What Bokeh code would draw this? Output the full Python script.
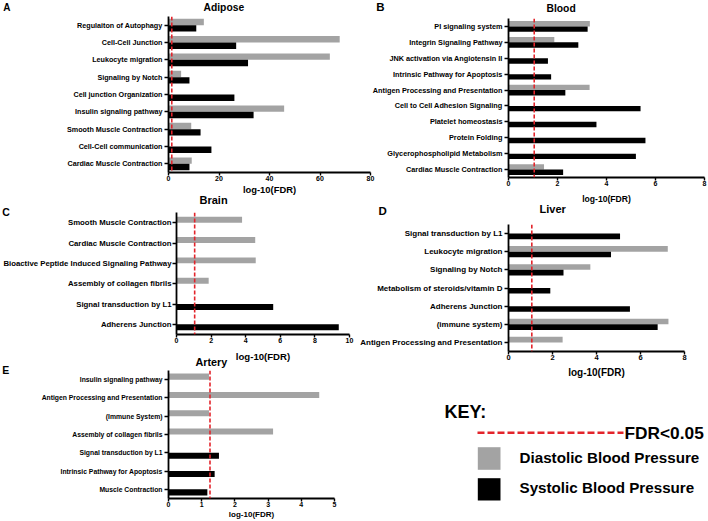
from bokeh.plotting import figure
from bokeh.models import Range1d, FactorRange, FixedTicker, Span, ColumnDataSource
from bokeh.transform import dodge
from bokeh.embed import file_html
from bokeh.resources import INLINE
from bokeh.core.properties import value

FONT = "Liberation Sans"
GRAY = "#a3a3a3"
BLACK = "#000000"
RED = "#e3242b"

# ---------------- data (values are -log10(FDR)) ----------------
adipose_cats = ["Regulaiton of Autophagy", "Cell-Cell Junction", "Leukocyte migration",
                "Signaling by Notch", "Cell junction Organization", "Insulin signaling pathway",
                "Smooth Muscle Contraction", "Cell-Cell communication", "Cardiac Muscle Contraction"]
adipose_dbp = [14.0, 67.8, 63.9, 5.0, 0.0, 45.8, 9.0, 0.0, 9.2]
adipose_sbp = [11.0, 26.8, 31.5, 8.3, 26.1, 33.7, 12.7, 17.0, 8.3]

blood_cats = ["PI signaling system", "Integrin Signaling Pathway", "JNK activation via Angiotensin II",
              "Intrinsic Pathway for Apoptosis", "Antigen Processing and Presentation",
              "Cell to Cell Adhesion Signaling", "Platelet homeostasis", "Protein Folding",
              "Glycerophospholipid Metabolism", "Cardiac Muscle Contraction"]
blood_dbp = [3.32, 1.87, 0.0, 0.0, 3.31, 0.0, 0.0, 0.0, 0.0, 1.45]
blood_sbp = [3.23, 2.85, 1.61, 1.74, 2.32, 5.39, 3.59, 5.59, 5.20, 2.23]

brain_cats = ["Smooth Muscle Contraction", "Cardiac Muscle Contraction",
              "Bioactive Peptide Induced Signaling Pathway", "Assembly of collagen fibrils",
              "Signal transduction by L1", "Adherens Junction"]
brain_dbp = [3.79, 4.55, 4.58, 1.86, 0.0, 0.0]
brain_sbp = [0.0, 0.0, 0.0, 0.0, 5.59, 9.38]

liver_cats = ["Signal transduction by L1", "Leukocyte migration", "Signaling by Notch",
              "Metabolism of steroids/vitamin D", "Adherens Junction", "(immune system)",
              "Antigen Processing and Presentation"]
liver_dbp = [0.0, 7.24, 3.72, 0.0, 0.0, 7.27, 2.46]
liver_sbp = [5.07, 4.66, 2.50, 1.90, 5.52, 6.78, 0.0]

artery_cats = ["Insulin signaling pathway", "Antigen Processing and Presentation", "(Immune System)",
               "Assembly of collagen fibrils", "Signal transduction by L1",
               "Intrinsic Pathway for Apoptosis", "Muscle Contraction"]
artery_dbp = [1.22, 4.54, 1.22, 3.15, 0.0, 0.0, 0.0]
artery_sbp = [0.0, 0.0, 0.0, 0.0, 1.52, 1.39, 1.17]

thresholds = {"Adipose": 1.3, "Blood": 1.05, "Brain": 1.05, "Liver": 1.06, "Artery": 1.25}
x_ticks = {"Adipose": [0, 20, 40, 60, 80], "Blood": [0, 2, 4, 6, 8], "Brain": [0, 2, 4, 6, 8, 10],
           "Liver": [0, 2, 4, 6, 8], "Artery": [0, 1, 2, 3, 4, 5]}

panel_letters = ["A", "B", "C", "D", "E"]
key_labels = ["KEY:", "FDR<0.05", "Diastolic Blood Pressure", "Systolic Blood Pressure"]


def panel(name, cats, dbp, sbp, g):
    ticks = x_ticks[name]
    p = figure(width=g["bl"] + g["fw"] + g["br"], height=g["bt"] + g["fh"] + g["bb"], title=name,
               y_range=FactorRange(factors=list(reversed(cats)), range_padding=0),
               x_range=Range1d(0, ticks[-1]),
               toolbar_location=None, output_backend="svg",
               min_border_left=g["bl"], min_border_right=g["br"],
               min_border_top=g["bt"], min_border_bottom=g["bb"])
    p.styles = {"position": "absolute", "left": f"{g['x']}px", "top": f"{g['y']}px"}
    p.border_fill_color = None
    p.background_fill_color = None
    p.outline_line_color = None
    p.grid.visible = False

    src = ColumnDataSource(dict(cat=cats, dbp=dbp, sbp=sbp))
    h = g["bar"]
    p.hbar(y=dodge("cat", h / 2, range=p.y_range), right="dbp", height=h,
           fill_color=GRAY, line_color=None, source=src)
    p.hbar(y=dodge("cat", -h / 2, range=p.y_range), right="sbp", height=h,
           fill_color=BLACK, line_color=None, source=src)
    p.add_layout(Span(location=thresholds[name], dimension="height", line_color=RED,
                      line_dash="4 2", line_width=1.6))

    p.title.align = "left"
    p.title.offset = g["toff"]
    p.title.standoff = g["tstand"]
    p.title.text_font = FONT
    p.title.text_font_size = g["tfs"]
    p.title.text_font_style = "bold"
    p.title.text_color = BLACK

    for ax in (p.xaxis, p.yaxis):
        ax.axis_line_width = 1.8
        ax.axis_line_color = BLACK
        ax.major_tick_line_width = 1.4
        ax.major_tick_line_color = BLACK
        ax.major_tick_in = 0
        ax.minor_tick_line_color = None
        ax.major_label_text_font = FONT
        ax.major_label_text_font_style = "bold"
        ax.major_label_text_color = BLACK
    p.yaxis.major_tick_out = 4
    p.yaxis.major_label_standoff = g.get("ystand", 2)
    p.yaxis.major_label_text_font_size = g["yfs"]
    p.xaxis.major_tick_out = 3
    p.xaxis.major_label_standoff = 0
    p.xaxis.major_label_text_font_size = g["xfs"]
    p.xaxis.ticker = FixedTicker(ticks=ticks)
    p.xaxis.axis_label = "log-10(FDR)"
    p.xaxis.axis_label_text_font = FONT
    p.xaxis.axis_label_text_font_style = "bold"
    p.xaxis.axis_label_text_color = BLACK
    p.xaxis.axis_label_text_font_size = g["lfs"]
    p.xaxis.axis_label_standoff = g["lstand"]
    return p


A = panel("Adipose", adipose_cats, adipose_dbp, adipose_sbp,
          dict(x=0, y=-6, bl=168, fw=202, br=6, bt=22, fh=157, bb=24, bar=0.37,
               toff=35, tstand=8, tfs="10.3px", yfs="7.2px", xfs="7px", lfs="9.4px", lstand=0))
B = panel("Blood", blood_cats, blood_dbp, blood_sbp,
          dict(x=356, y=-6, bl=152, fw=196, br=4, bt=24, fh=160, bb=28, bar=0.34,
               toff=38, tstand=9, tfs="10.3px", yfs="7.3px", xfs="7px", lfs="8.6px", lstand=5))
C = panel("Brain", brain_cats, brain_dbp, brain_sbp,
          dict(x=0, y=180, bl=174, fw=175, br=8, bt=32, fh=124, bb=28, bar=0.29,
               toff=23, tstand=14, tfs="11px", yfs="7.8px", ystand=1, xfs="7px", lfs="9.6px", lstand=5))
D = panel("Liver", liver_cats, liver_dbp, liver_sbp,
          dict(x=356, y=190, bl=152, fw=176, br=8, bt=34, fh=127, bb=29, bar=0.31,
               toff=31, tstand=19, tfs="11px", yfs="8px", xfs="7.5px", lfs="10px", lstand=4))
E = panel("Artery", artery_cats, artery_dbp, artery_sbp,
          dict(x=0, y=348, bl=168, fw=166, br=8, bt=22, fh=128, bb=23, bar=0.33,
               toff=27, tstand=6, tfs="10.8px", yfs="6.8px", xfs="7px", lfs="8px", lstand=0))

# ---------------- overlay: panel letters and key (page pixel space) ----------------
O = figure(width=708, height=521, x_range=Range1d(0, 708), y_range=Range1d(521, 0),
           toolbar_location=None, output_backend="svg", min_border=0,
           x_axis_location=None, y_axis_location=None)
O.styles = {"position": "absolute", "left": "0px", "top": "0px"}
O.grid.visible = False
O.outline_line_color = None
O.border_fill_color = None
O.background_fill_color = None

letter_src = ColumnDataSource(dict(x=[2.7, 375.7, 1.7, 378, 1.7], y=[7, 6.5, 211.5, 210, 369.5],
                                   t=panel_letters, s=["10px", "11.5px", "10.5px", "11.5px", "10.5px"]))
O.text(x="x", y="y", text="t", text_font_size="s", source=letter_src, text_font=value(FONT),
       text_font_style="bold", text_baseline="alphabetic", text_color=BLACK)

O.text(x=[444], y=[411.7], text=[key_labels[0]], text_font=value(FONT), text_font_size="18px",
       text_font_style="bold", text_baseline="alphabetic", text_color=BLACK)
O.segment(x0=[477], y0=[432.3], x1=[623], y1=[432.3], line_color=RED, line_dash="7 3", line_width=2.4)
O.text(x=[624], y=[432.3], text=[key_labels[1]], text_font=value(FONT), text_font_size="17.3px",
       text_font_style="bold", text_baseline="alphabetic", text_color=BLACK)
O.quad(left=[477.3], right=[500], top=[446.7], bottom=[469.3], fill_color=GRAY, line_color=None)
O.quad(left=[477.3], right=[500], top=[477.7], bottom=[500], fill_color=BLACK, line_color=None)
O.text(x=[519, 519], y=[456.6, 486.9], text=key_labels[2:], text_font=value(FONT),
       text_font_size="15.2px", text_font_style="bold", text_baseline="alphabetic", text_color=BLACK)

open("out.html", "w").write(file_html([A, B, C, D, E, O], INLINE))
